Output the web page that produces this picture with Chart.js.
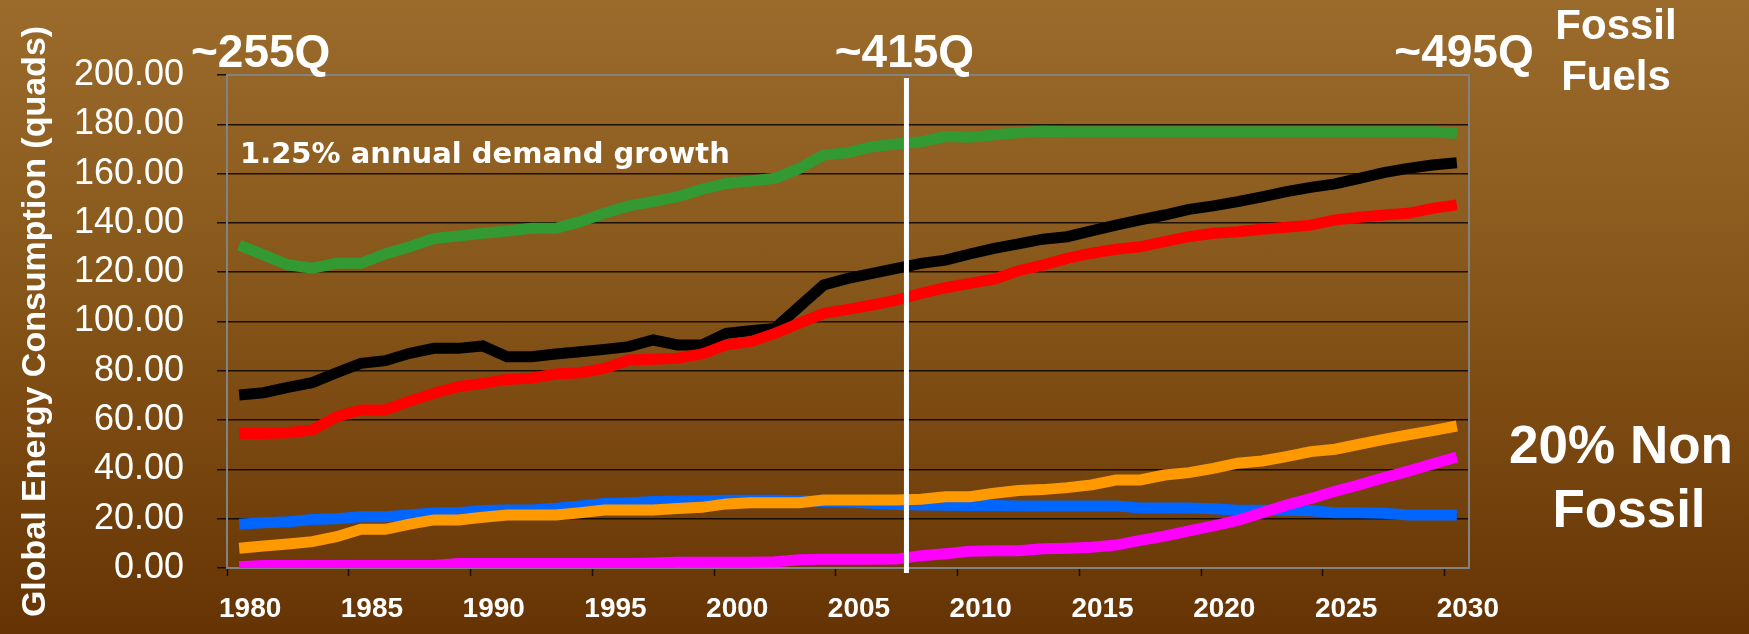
<!DOCTYPE html>
<html>
<head>
<meta charset="utf-8">
<title>Global Energy Consumption</title>
<script src="https://cdn.jsdelivr.net/npm/chart.js@4.4.1/dist/chart.umd.min.js"></script>
<style>
  html, body { margin: 0; padding: 0; }
  body {
    width: 1749px;
    height: 634px;
    overflow: hidden;
    background: linear-gradient(to bottom, #9a6b2b 0%, #8b5c1e 35%, #7a4810 68%, #663404 100%);
  }
  #wrap { position: relative; width: 1749px; height: 634px; }
</style>
</head>
<body>
<div id="wrap"><canvas id="energyChart"></canvas></div>
<script>
// years on the category axis, one point per year
const years = [
  1980, 1981, 1982, 1983, 1984, 1985, 1986, 1987, 1988, 1989,
  1990, 1991, 1992, 1993, 1994, 1995, 1996, 1997, 1998, 1999,
  2000, 2001, 2002, 2003, 2004, 2005, 2006, 2007, 2008, 2009,
  2010, 2011, 2012, 2013, 2014, 2015, 2016, 2017, 2018, 2019,
  2020, 2021, 2022, 2023, 2024, 2025, 2026, 2027, 2028, 2029,
  2030
];

// quads per year
const oil = [
  131.0, 127.0, 123.0, 121.6, 123.6, 123.6, 127.4, 130.3, 133.7, 134.7,
  135.8, 136.7, 137.8, 137.8, 140.5, 143.9, 146.9, 148.6, 150.6, 153.6,
  156.0, 157.0, 158.1, 162.1, 167.5, 168.5, 170.9, 172.0, 172.9, 175.0,
  174.7, 175.7, 176.6, 177.2, 177.0, 177.0, 177.0, 177.0, 177.0, 177.0,
  177.0, 177.0, 177.0, 177.0, 177.0, 177.0, 177.0, 177.0, 177.0, 177.0,
  176.3
];
const coal = [
  70.2, 71.1, 73.3, 75.2, 79.2, 83.0, 84.1, 87.1, 89.1, 89.1,
  90.1, 85.7, 85.7, 86.8, 87.7, 88.7, 89.8, 92.5, 90.5, 90.5,
  95.2, 96.3, 97.2, 106.0, 114.8, 117.5, 119.5, 121.6, 123.6, 124.9,
  127.4, 129.7, 131.5, 133.4, 134.4, 136.8, 139.1, 141.2, 143.2, 145.5,
  146.9, 148.6, 150.6, 152.7, 154.4, 155.8, 158.1, 160.4, 162.1, 163.5,
  164.4
];
const gas = [
  54.6, 54.6, 54.9, 56.0, 61.4, 64.1, 64.1, 67.7, 70.9, 73.6,
  74.9, 76.5, 77.0, 78.7, 79.2, 81.0, 84.4, 84.7, 85.1, 86.8,
  90.5, 91.8, 95.2, 99.3, 103.3, 104.9, 106.7, 108.7, 111.4, 113.7,
  115.5, 117.2, 120.6, 122.9, 125.6, 127.7, 129.3, 130.3, 132.4, 134.4,
  135.8, 136.4, 137.4, 138.2, 139.1, 141.2, 142.3, 143.2, 143.9, 145.9,
  147.3
];
const nuclear = [
  17.8, 18.4, 18.8, 19.7, 20.0, 20.8, 20.8, 21.5, 22.4, 22.4,
  23.3, 23.5, 23.5, 24.2, 25.2, 26.2, 26.5, 27.0, 27.2, 27.3,
  27.5, 27.5, 27.5, 27.3, 27.0, 26.8, 26.3, 25.8, 25.6, 25.5,
  25.4, 25.4, 25.2, 25.2, 25.2, 25.2, 25.2, 24.3, 24.3, 24.3,
  24.0, 23.4, 23.4, 23.4, 23.2, 22.4, 22.4, 22.2, 21.5, 21.5,
  21.5
];
const hydro = [
  8.0, 8.9, 9.7, 10.7, 12.7, 15.7, 15.7, 17.8, 19.5, 19.5,
  20.6, 21.5, 21.5, 21.5, 22.4, 23.5, 23.5, 23.5, 24.1, 24.6,
  26.0, 26.5, 26.5, 26.5, 27.6, 27.6, 27.6, 27.6, 27.9, 28.9,
  28.9, 30.3, 31.4, 31.8, 32.6, 33.7, 35.7, 35.7, 37.7, 38.7,
  40.4, 42.5, 43.4, 45.2, 47.2, 48.2, 50.2, 52.2, 54.0, 55.7,
  57.6
];
const renewables = [
  0.5, 1.0, 1.0, 1.0, 1.0, 1.0, 1.0, 1.0, 1.0, 1.8,
  1.8, 1.8, 1.8, 1.8, 1.8, 1.8, 1.8, 2.0, 2.3, 2.3,
  2.3, 2.3, 2.5, 3.3, 3.5, 3.5, 3.5, 3.6, 5.0, 5.8,
  6.8, 7.0, 7.0, 7.8, 8.0, 8.4, 9.3, 11.2, 12.9, 15.1,
  17.1, 19.3, 22.4, 25.5, 28.2, 31.1, 33.8, 36.6, 39.3, 42.2,
  45.0
];

// where the "today" divider sits, in years
const markerYear = 2007.4;

const WHITE = '#ffffff';
const SANS = "'Liberation Sans', Arial, sans-serif";

function series(label, data, color, order) {
  return {
    label, data, order,
    borderColor: color,
    backgroundColor: color,
    borderWidth: 11,
    pointRadius: 0,
    tension: 0,
    fill: false
  };
}

function drawText(ctx, text, x, y, font, align) {
  ctx.font = font;
  ctx.textAlign = align || 'left';
  ctx.textBaseline = 'alphabetic';
  ctx.fillStyle = WHITE;
  ctx.fillText(text, x, y);
}

const overlay = {
  id: 'overlay',
  beforeDatasetsDraw(chart) {
    const { ctx, chartArea: a } = chart;
    ctx.save();
    ctx.strokeStyle = '#828282';
    ctx.lineWidth = 2;
    ctx.strokeRect(a.left, a.top, a.right - a.left, a.bottom - a.top);
    ctx.restore();
  },
  afterDatasetsDraw(chart) {
    const { ctx, chartArea: a, scales: { x } } = chart;
    const px = x.getPixelForValue(markerYear - years[0]);
    ctx.save();
    ctx.strokeStyle = WHITE;
    ctx.lineWidth = 5;
    ctx.beginPath();
    ctx.moveTo(px, a.top + 3);
    ctx.lineTo(px, a.bottom + 5);
    ctx.stroke();
    ctx.restore();
  },
  afterDraw(chart) {
    const { ctx, chartArea: a, scales: { x } } = chart;
    const px = x.getPixelForValue(markerYear - years[0]);
    const big = `bold 46px ${SANS}`;
    ctx.save();
    drawText(ctx, '~255Q', a.left - 36, a.top - 8, big);
    drawText(ctx, '~415Q', px - 2, a.top - 8, big, 'center');
    drawText(ctx, '~495Q', a.right - 5, a.top - 8, big, 'center');

    drawText(ctx, 'Fossil', a.right + 147, 39, `bold 42px ${SANS}`, 'center');
    drawText(ctx, 'Fuels', a.right + 147, 90, `bold 42px ${SANS}`, 'center');

    drawText(ctx, '20% Non', a.right + 152, 463, `bold 53px ${SANS}`, 'center');
    drawText(ctx, 'Fossil', a.right + 160, 527, `bold 53px ${SANS}`, 'center');

    drawText(ctx, '1.25% annual demand growth', a.left + 13, 163, "bold 29px 'DejaVu Sans', Verdana, sans-serif");
    ctx.restore();
  }
};

new Chart(document.getElementById('energyChart'), {
  type: 'line',
  data: {
    labels: years,
    datasets: [
      series('Oil', oil, '#339933', 4),
      series('Coal', coal, '#000000', 5),
      series('Natural gas', gas, '#ff0000', 2),
      series('Nuclear', nuclear, '#0066ff', 6),
      series('Hydro', hydro, '#ff9900', 3),
      series('Renewables', renewables, '#ff00ff', 1)
    ]
  },
  options: {
    responsive: true,
    maintainAspectRatio: false,
    animation: false,
    devicePixelRatio: 1,
    layout: { padding: { top: 75, right: 280, bottom: 0, left: 0 } },
    plugins: { legend: { display: false }, tooltip: { enabled: false } },
    scales: {
      x: {
        type: 'category',
        offset: true,
        afterFit: (s) => { s.height = 66; },
        border: { display: false },
        grid: {
          offset: true,
          drawOnChartArea: false,
          drawTicks: true,
          tickLength: 8,
          tickWidth: 1.5,
          tickColor: (c) => (c.index % 5 === 0 ? '#1a0e02' : 'rgba(0,0,0,0)')
        },
        ticks: {
          autoSkip: false,
          maxRotation: 0,
          minRotation: 0,
          padding: 16,
          labelOffset: 11,
          color: WHITE,
          font: { family: SANS, size: 28, weight: 'bold' },
          callback: (v, i) => (i % 5 === 0 ? String(years[i]) : '')
        }
      },
      y: {
        min: 0,
        max: 200,
        afterFit: (s) => { s.width = 227; },
        border: { display: false },
        grid: {
          lineWidth: 1.5,
          tickLength: 10,
          tickColor: '#1a0e02',
          color: (c) => (c.tick && (c.tick.value === 0 || c.tick.value === 200) ? 'rgba(0,0,0,0)' : 'rgba(15,8,0,0.9)')
        },
        ticks: {
          stepSize: 20,
          padding: 33,
          color: WHITE,
          font: { family: SANS, size: 36 },
          callback: (v) => v.toFixed(2)
        },
        title: {
          display: true,
          text: 'Global Energy Consumption (quads)',
          color: WHITE,
          padding: { top: 15, bottom: 0 },
          font: { family: SANS, size: 34, weight: 'bold' }
        }
      }
    }
  },
  plugins: [overlay]
});
</script>
</body>
</html>
